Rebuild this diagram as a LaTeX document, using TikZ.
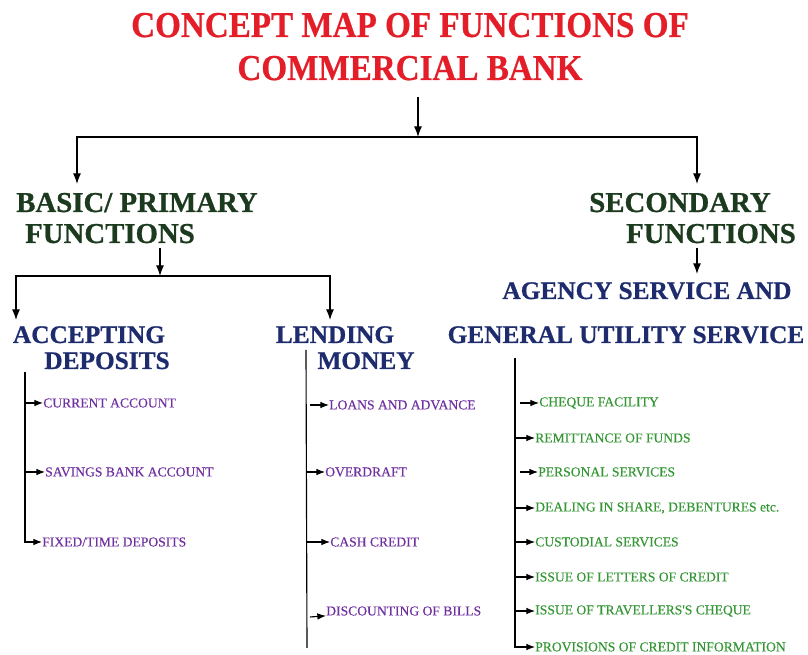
\documentclass[tikz,border=0pt]{standalone}
\usepackage{fontspec}
\setmainfont{Liberation Serif}
\newfontfamily\titlefont{Liberation Serif}[FakeStretch=0.91,FakeBold=0.6]
\newfontfamily\headfont{Liberation Serif}[FakeBold=0.8]
\newfontfamily\itemfont{Liberation Serif}[FakeBold=0.25]
\usetikzlibrary{arrows.meta}
\definecolor{titlered}{RGB}{228,30,40}
\definecolor{hgreen}{RGB}{28,58,30}
\definecolor{hblue}{RGB}{30,44,110}
\definecolor{ipurple}{RGB}{112,48,160}
\definecolor{igreen}{RGB}{52,150,52}
\definecolor{lgray}{RGB}{120,120,120}
\tikzset{
  titletext/.style={font=\titlefont\bfseries\fontsize{27.3}{27}\selectfont, text=titlered, inner sep=0pt, anchor=base},
  headg/.style={font=\headfont\bfseries\fontsize{21.6}{21}\selectfont, text=hgreen, inner sep=0pt, anchor=base},
  headb/.style={font=\headfont\bfseries\fontsize{19}{19}\selectfont, text=hblue, inner sep=0pt, anchor=base},
  itemp/.style={font=\itemfont\fontsize{10.2}{10}\selectfont, text=ipurple, inner sep=0pt, anchor=west},
  itemg/.style={font=\itemfont\fontsize{10.2}{10}\selectfont, text=igreen, inner sep=0pt, anchor=west},
  bigarr/.style={line width=0.85pt, -{Latex[length=8pt,width=6pt]}},
  smallarr/.style={line width=0.85pt, -{Latex[length=6.5pt,width=5pt]}},
  trunk/.style={line width=0.85pt},
  graytrunk/.style={line width=1.4pt, draw=lgray}
}
\begin{document}
\begin{tikzpicture}[x=0.75pt,y=-0.75pt]
\useasboundingbox (0,0) rectangle (808,655);
% titles
\node[titletext] (t1) at (410,37) {CONCEPT MAP OF FUNCTIONS OF};
\node[titletext] (t2) at (410,80) {COMMERCIAL BANK};
% level 1 headings
\node[headg] (bp1) at (137,212) {BASIC/ PRIMARY};
\node[headg] (bp2) at (110,243) {FUNCTIONS};
\node[headg] (sf1) at (680,212) {SECONDARY};
\node[headg] (sf2) at (711,243) {FUNCTIONS};
% level 2 headings
\node[headb] (ad1) at (89,343) {ACCEPTING};
\node[headb] (ad2) at (107,369) {DEPOSITS};
\node[headb] (lm1) at (335,343) {LENDING};
\node[headb] (lm2) at (366,369) {MONEY};
\node[headb] (ag1) at (647,299) {AGENCY SERVICE AND};
\node[headb] (ag2) at (626,343) {GENERAL UTILITY SERVICE};
% deposit items
\node[itemp] (ca) at (43,403) {CURRENT ACCOUNT};
\node[itemp] (sb) at (45,472) {SAVINGS BANK ACCOUNT};
\node[itemp] (fd) at (42,542) {FIXED/TIME DEPOSITS};
% lending items
\node[itemp] (la) at (329,405) {LOANS AND ADVANCE};
\node[itemp] (od) at (325,472) {OVERDRAFT};
\node[itemp] (cc) at (330,542) {CASH CREDIT};
\node[itemp] (db) at (326,611) {DISCOUNTING OF BILLS};
% secondary items
\node[itemg] (cf) at (539,403) {CHEQUE FACILITY};
\node[itemg] (rf) at (535,438) {REMITTANCE OF FUNDS};
\node[itemg] (ps) at (538,472) {PERSONAL SERVICES};
\node[itemg] (ds) at (535,508) {DEALING IN SHARE, DEBENTURES etc.};
\node[itemg] (cs) at (535,542) {CUSTODIAL SERVICES};
\node[itemg] (lc) at (535,577) {ISSUE OF LETTERS OF CREDIT};
\node[itemg] (tc) at (535,611) {ISSUE OF TRAVELLERS'S CHEQUE};
\node[itemg] (pc) at (535,647) {PROVISIONS OF CREDIT INFORMATION};
% junction coordinates
\coordinate (top0) at (418,97);
\coordinate (j0) at (418,137);
\coordinate (bpin) at (77,184);
\coordinate (sfin) at (697,184);
\coordinate (bpout) at (160,248);
\coordinate (j1) at (160,276);
\coordinate (adin) at (16,320);
\coordinate (lmin) at (330,320);
\coordinate (sfout) at (697,248);
\coordinate (agin) at (697,274);
\coordinate (adtop) at (25,372);
\coordinate (adca) at (25,403);
\coordinate (adsb) at (25,472);
\coordinate (lmtop) at (306,350);
\coordinate (lmbot) at (307,648);
\coordinate (lmla) at (310,405);
\coordinate (lmod) at (307,472);
\coordinate (lmcc) at (307,542);
\coordinate (lmdb) at (310,617);
\coordinate (agtop) at (515,358);
\coordinate (agcf) at (520,403);
\coordinate (agrf) at (515,438);
\coordinate (agps) at (520,472);
\coordinate (agds) at (515,508);
\coordinate (agcs) at (515,542);
\coordinate (aglc) at (515,577);
\coordinate (agtc) at (515,611);
% main tree
\draw[bigarr] (top0) -- (j0);
\draw[bigarr] (j0) -| (bpin);
\draw[bigarr] (j0) -| (sfin);
\draw[bigarr] (bpout) -- (j1);
\draw[bigarr] (j1) -| (adin);
\draw[bigarr] (j1) -| (lmin);
\draw[bigarr] (sfout) -- (agin);
% deposits
\draw[graytrunk] (adtop) -- (25,542);
\draw[smallarr] (adca) -- (ca.west);
\draw[smallarr] (adsb) -- (sb.west);
\draw[smallarr] (adtop) |- (fd.west);
% lending
\draw[trunk] (lmtop) -- (lmbot);
\draw[smallarr] (lmla) -- (la.west);
\draw[smallarr] (lmod) -- (od.west);
\draw[smallarr] (lmcc) -- (cc.west);
\draw[smallarr] (lmdb) -- (db.south west);
% secondary
\draw[smallarr] (agtop) |- (pc.west);
\draw[smallarr] (agcf) -- (cf.west);
\draw[smallarr] (agrf) -- (rf.west);
\draw[smallarr] (agps) -- (ps.west);
\draw[smallarr] (agds) -- (ds.west);
\draw[smallarr] (agcs) -- (cs.west);
\draw[smallarr] (aglc) -- (lc.west);
\draw[smallarr] (agtc) -- (tc.west);
\end{tikzpicture}
\end{document}
